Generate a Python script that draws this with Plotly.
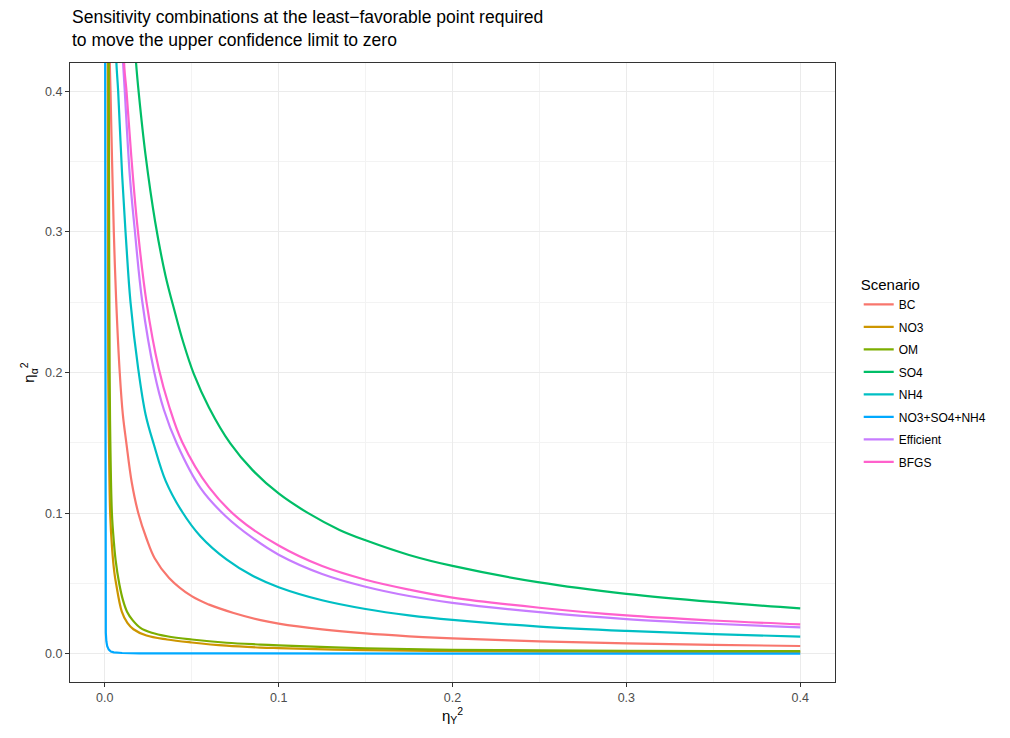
import plotly.graph_objects as go

# Series (x = eta_Y^2, y = eta_alpha^2)
scenarios = ["BC", "NO3", "OM", "SO4", "NH4", "NO3+SO4+NH4", "Efficient", "BFGS"]
colors = ["#F8766D", "#CD9600", "#7CAE00", "#00BE67", "#00BFC4", "#00A9FF", "#C77CFF", "#FF61CC"]

bc_x = [0.0027, 0.0029, 0.0033, 0.0042, 0.0052, 0.0066, 0.0086, 0.0104, 0.0124, 0.0155, 0.0193, 0.024, 0.0287, 0.037, 0.05, 0.06, 0.0741, 0.0896, 0.1, 0.125, 0.15, 0.175, 0.2, 0.25, 0.3, 0.35, 0.4]
bc_y = [0.44, 0.42, 0.40, 0.35, 0.30, 0.25, 0.20, 0.17, 0.15, 0.122, 0.10, 0.082, 0.068, 0.054, 0.041, 0.035, 0.0291, 0.0240, 0.0215, 0.0174, 0.0145, 0.0125, 0.011, 0.0089, 0.0075, 0.0064, 0.0056]

no3_x = [0.0016, 0.0017, 0.0018, 0.0020, 0.0024, 0.0031, 0.0042, 0.0055, 0.0065, 0.0098, 0.013, 0.0165, 0.024, 0.0358, 0.05, 0.07, 0.0896, 0.1, 0.15, 0.2, 0.25, 0.3, 0.35, 0.4]
no3_y = [0.44, 0.42, 0.30, 0.20, 0.15, 0.10, 0.075, 0.058, 0.05, 0.030, 0.022, 0.0175, 0.013, 0.0102, 0.0081, 0.0058, 0.0045, 0.0041, 0.0026, 0.0019, 0.0016, 0.0014, 0.0012, 0.0011]

om_x = [0.0022, 0.0023, 0.0025, 0.0028, 0.0032, 0.0041, 0.0052, 0.0062, 0.0083, 0.0105, 0.0128, 0.016, 0.0205, 0.027, 0.0358, 0.05, 0.07, 0.0896, 0.1, 0.15, 0.2, 0.25, 0.3, 0.35, 0.4]
om_y = [0.44, 0.42, 0.30, 0.20, 0.15, 0.10, 0.08, 0.067, 0.05, 0.038, 0.030, 0.024, 0.0185, 0.015, 0.0125, 0.0102, 0.0079, 0.0066, 0.006, 0.0040, 0.0029, 0.0025, 0.0022, 0.0020, 0.0019]

so4_x = [0.017, 0.018, 0.0196, 0.0234, 0.029, 0.0349, 0.0403, 0.045, 0.0512, 0.06, 0.0722, 0.085, 0.1, 0.117, 0.135, 0.15, 0.175, 0.2, 0.25, 0.3, 0.35, 0.4]
so4_y = [0.44, 0.42, 0.398, 0.355, 0.307, 0.269, 0.243, 0.222, 0.199, 0.175, 0.1496, 0.1306, 0.114, 0.100, 0.0881, 0.0807, 0.0703, 0.0625, 0.0508, 0.0427, 0.0369, 0.0323]

nh4_x = [0.0064, 0.0067, 0.0077, 0.010, 0.0123, 0.0148, 0.0192, 0.0235, 0.0282, 0.035, 0.0445, 0.055, 0.07, 0.085, 0.1, 0.125, 0.15, 0.175, 0.2, 0.25, 0.3, 0.35, 0.4]
nh4_y = [0.44, 0.42, 0.40, 0.34, 0.293, 0.25, 0.203, 0.170, 0.149, 0.123, 0.101, 0.0836, 0.0671, 0.0555, 0.0474, 0.0381, 0.0319, 0.0274, 0.0241, 0.0194, 0.0163, 0.014, 0.0123]

comb_x = [0.0002, 0.0003, 0.0004, 0.0006, 0.0009, 0.0014, 0.0023, 0.0035, 0.0052, 0.01, 0.02, 0.05, 0.1, 0.2, 0.4]
comb_y = [0.44, 0.10, 0.03, 0.015, 0.009, 0.0055, 0.003, 0.0017, 0.0011, 0.0006, 0.0004, 0.0003, 0.0002, 0.0001, 0.0001]

eff_x = [0.0098, 0.0104, 0.0115, 0.0144, 0.0172, 0.0215, 0.0285, 0.034, 0.0416, 0.055, 0.0694, 0.085, 0.1, 0.125, 0.15, 0.175, 0.2, 0.25, 0.3, 0.35, 0.4]
eff_y = [0.44, 0.423, 0.40, 0.340, 0.302, 0.251, 0.20, 0.1735, 0.149, 0.118, 0.098, 0.0824, 0.0705, 0.0568, 0.0477, 0.0411, 0.0363, 0.0296, 0.0247, 0.0214, 0.0188]

bfgs_x = [0.0106, 0.0113, 0.0125, 0.0153, 0.0186, 0.024, 0.031, 0.037, 0.0445, 0.06, 0.077, 0.1, 0.125, 0.15, 0.175, 0.2, 0.25, 0.3, 0.35, 0.4]
bfgs_y = [0.44, 0.416, 0.40, 0.353, 0.306, 0.25, 0.203, 0.176, 0.1506, 0.1183, 0.0961, 0.077, 0.0624, 0.0527, 0.0457, 0.040, 0.0328, 0.0273, 0.0237, 0.021]

series_x = [bc_x, no3_x, om_x, so4_x, nh4_x, comb_x, eff_x, bfgs_x]
series_y = [bc_y, no3_y, om_y, so4_y, nh4_y, comb_y, eff_y, bfgs_y]

x_ticks = [0.0, 0.1, 0.2, 0.3, 0.4]
y_ticks = [0.0, 0.1, 0.2, 0.3, 0.4]
x_ticklabels = ["0.0", "0.1", "0.2", "0.3", "0.4"]
y_ticklabels = ["0.0", "0.1", "0.2", "0.3", "0.4"]

title_text = ("Sensitivity combinations at the least\u2212favorable point required"
              "<br>to move the upper confidence limit to zero")

fig = go.Figure()
for name, c, xs, ys in zip(scenarios, colors, series_x, series_y):
    shape = "linear" if name == "NO3+SO4+NH4" else "spline"
    fig.add_trace(go.Scatter(
        x=xs, y=ys, mode="lines", name=name, legendgroup=name,
        line=dict(color=c, width=2.2, shape=shape, smoothing=1.0),
    ))

font_family = "Liberation Sans, Arial, sans-serif"
axis_common = dict(
    showline=True, mirror=True, linecolor="#333333", linewidth=1,
    ticks="outside", ticklen=4, tickcolor="#333333", tickwidth=1,
    showgrid=True, gridcolor="#EBEBEB", gridwidth=1.1,
    zeroline=False, automargin=False,
    tickfont=dict(family=font_family, size=12.5, color="#4D4D4D"),
    minor=dict(dtick=0.05, showgrid=True, gridcolor="#F3F3F3", gridwidth=0.6, ticks=""),
)

# page body has an 8px margin, so the figure is sized/offset accordingly
fig.update_layout(
    width=1002, height=730,
    paper_bgcolor="white", plot_bgcolor="white",
    margin=dict(l=62, r=175, t=55, b=56),
    font=dict(family=font_family, color="black"),
    xaxis=dict(
        range=[-0.02, 0.42], tickvals=x_ticks, ticktext=x_ticklabels,
        title=dict(text="\u03b7<sub>Y</sub><sup>2</sup>", font=dict(family=font_family, size=15), standoff=4),
        **axis_common,
    ),
    yaxis=dict(
        range=[-0.02, 0.42], tickvals=y_ticks, ticktext=y_ticklabels,
        title=dict(text="\u03b7<sub>\u03b1</sub><sup>2</sup>", font=dict(family=font_family, size=15), standoff=6),
        **axis_common,
    ),
    legend=dict(
        title=dict(text="Scenario", font=dict(family=font_family, size=15, color="black")),
        font=dict(family=font_family, size=12, color="black"),
        x=1.031, xanchor="left", y=0.665, yanchor="top",
        bgcolor="rgba(0,0,0,0)", itemwidth=30, tracegroupgap=3.5,
    ),
    annotations=[dict(
        text=title_text, xref="paper", yref="paper", x=0, y=(682 - 5) / 619,
        xanchor="left", yanchor="top", align="left", showarrow=False,
        font=dict(family=font_family, size=17.5, color="black"),
    )],
    showlegend=True,
)

fig.write_html("out.html")
